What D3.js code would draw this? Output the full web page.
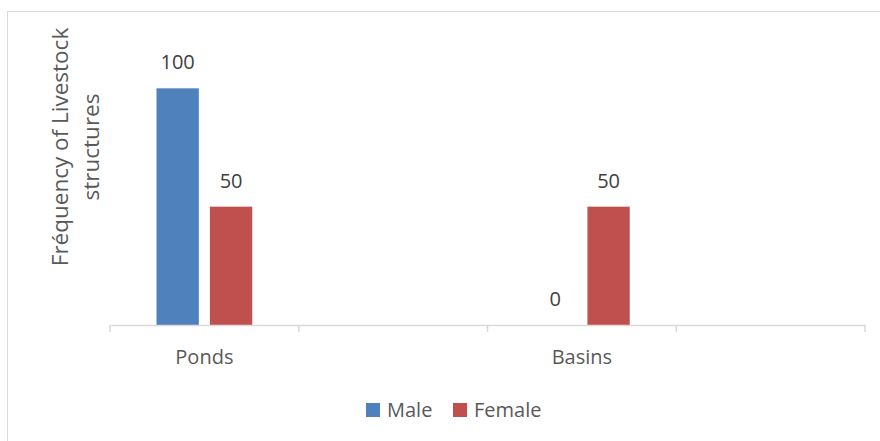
<!DOCTYPE html>
<html lang="en">
<head>
  <meta charset="UTF-8">
  <title>Livestock structures by sex</title>
  <script src="https://d3js.org/d3.v7.min.js"></script>
  <style>
    body { margin: 0; background: #fff; }
    svg text { font-family: "Open Sans", sans-serif; }
  </style>
</head>
<body>
<svg id="chart" width="880" height="441"></svg>

<script>
  // Data
  const categories = ["Ponds", "", "Basins", ""];
  const seriesNames = ["Male", "Female"];
  const maleValues = [100, null, 0, null];
  const femaleValues = [50, null, 50, null];
  const colors = ["#4f81bd", "#c0504d"];

  const width = 880;
  const height = 441;
  const margin = { top: 41, right: 15, bottom: 116, left: 110 };

  const svg = d3.select("#chart");

  // Outer chart border (only top and left edges are visible)
  svg.append("rect")
     .attr("x", 7.5).attr("y", 11.5)
     .attr("width", 900).attr("height", 460)
     .attr("fill", "none")
     .attr("stroke", "#d9d9d9");

  const x = d3.scaleBand()
              .domain(d3.range(categories.length))
              .range([margin.left, width - margin.right]);

  const y = d3.scaleLinear()
              .domain([0, 120])
              .range([height - margin.bottom, margin.top]);

  const groupInset = 46.5;
  const x1 = d3.scaleBand()
               .domain(seriesNames)
               .range([groupInset, x.bandwidth() - groupInset])
               .paddingInner(0.2075);

  const rows = categories.map((c, i) => ({
    index: i,
    values: [maleValues[i], femaleValues[i]]
  }));

  // Bars
  const groups = svg.append("g")
    .selectAll("g")
    .data(rows)
    .join("g")
    .attr("transform", d => `translate(${x(d.index)},0)`);

  const cells = groups.selectAll("g")
    .data(d => d.values.map((v, k) => ({ name: seriesNames[k], value: v, k })).filter(e => e.value !== null))
    .join("g");

  cells.append("rect")
       .attr("x", d => x1(d.name))
       .attr("y", d => y(d.value))
       .attr("width", x1.bandwidth())
       .attr("height", d => y(0) - y(d.value))
       .attr("fill", d => colors[d.k]);

  cells.append("text")
       .attr("x", d => x1(d.name) + x1.bandwidth() / 2)
       .attr("y", d => y(d.value) - 19)
       .attr("text-anchor", "middle")
       .attr("font-size", 20)
       .attr("fill", "#404040")
       .text(d => d.value);

  // X axis
  const axisY = y(0);
  const xAxis = svg.append("g")
     .attr("transform", `translate(0,${axisY})`)
     .call(d3.axisBottom(x).tickSize(0).tickFormat(i => categories[i]));

  xAxis.select(".domain").attr("stroke", "#d9d9d9").attr("stroke-width", 1.5);
  xAxis.selectAll(".tick text")
       .attr("y", 39)
       .attr("dy", 0)
       .attr("font-size", 20)
       .attr("font-family", "Open Sans, sans-serif")
       .attr("fill", "#595959");

  const boundaries = x.domain().map(i => x(i)).concat([x.range()[1]]);
  xAxis.selectAll(".bound")
       .data(boundaries)
       .join("line")
       .attr("class", "bound")
       .attr("x1", d => d).attr("x2", d => d)
       .attr("y1", 0).attr("y2", 7)
       .attr("stroke", "#d9d9d9")
       .attr("stroke-width", 1.5);

  // Y axis title
  const yTitle = svg.append("text")
     .attr("transform", "translate(0,147) rotate(-90)")
     .attr("text-anchor", "middle")
     .attr("font-size", 22.5)
     .attr("fill", "#595959");
  yTitle.append("tspan").attr("x", 0).attr("y", 68).text("Fréquency of Livestock");
  yTitle.append("tspan").attr("x", 0).attr("y", 99).text("structures");

  // Legend
  const legendX = [366, 453];
  const legend = svg.append("g")
    .selectAll("g")
    .data(seriesNames)
    .join("g")
    .attr("transform", (d, i) => `translate(${legendX[i]},403)`);

  legend.append("rect")
        .attr("width", 14).attr("height", 14)
        .attr("fill", (d, i) => colors[i]);

  legend.append("text")
        .attr("x", 21).attr("y", 14)
        .attr("font-size", 20)
        .attr("fill", "#595959")
        .text(d => d);
</script>
</body>
</html>
